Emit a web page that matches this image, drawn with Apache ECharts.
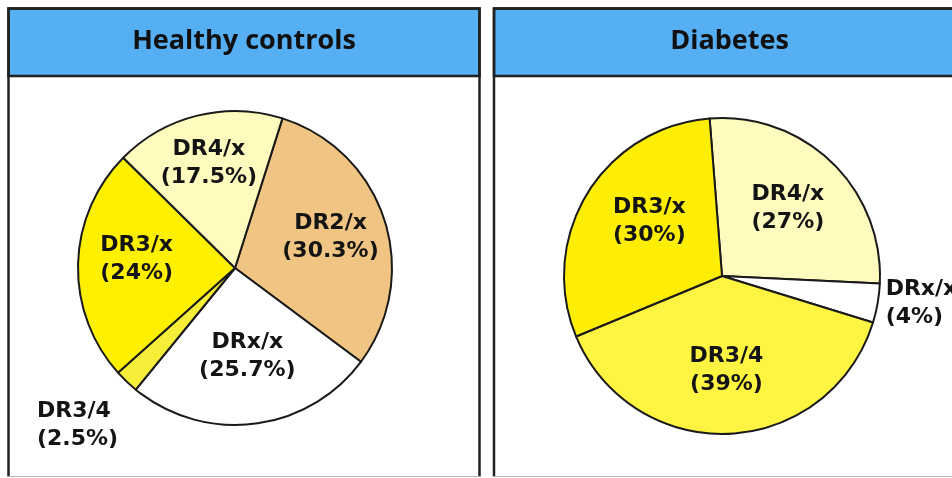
<!DOCTYPE html>
<html>
<head>
<meta charset="utf-8">
<script src="https://cdn.jsdelivr.net/npm/echarts@6/dist/echarts.min.js"></script>
<style>
  html, body { margin: 0; padding: 0; background: #ffffff; }
  #chart { width: 952px; height: 478px; }
</style>
</head>
<body>
<div id="chart"></div>
<script>
// HLA-DR genotype frequencies (%) in each group
const panelTitles = ['Healthy controls', 'Diabetes'];

const controlNames  = ['DR2/x', 'DRx/x', 'DR3/4', 'DR3/x', 'DR4/x'];
const controlValues = [30.3, 25.7, 2.5, 24, 17.5];
const controlColors = ['#f0c482', '#ffffff', '#f7ee3a', '#fff000', '#fffbbe'];

const diabetesNames  = ['DR4/x', 'DRx/x', 'DR3/4', 'DR3/x'];
const diabetesValues = [27, 4, 39, 30];
const diabetesColors = ['#fffbbe', '#ffffff', '#fff442', '#feee06'];

const labelFont = { fontFamily: 'DejaVu Sans', fontWeight: 'bold', fontSize: 22, lineHeight: 28, color: '#141414' };

// small per-label nudges inside the slices
const controlLabelNudge = { 'DR4/x': [-2, -7], 'DRx/x': [0, -11], 'DR3/x': [2, -6] };
const diabetesLabelNudge = { 'DR3/x': [8, -5] };

function labelText(p) {
  return p.name + '\n(' + p.value + '%)';
}

// slices drawn with a dark outline; one name per pie gets an outside label
function slicePie(names, values, colors, center, radius, startAngle, outsideName, outsideLabel) {
  return {
    type: 'pie',
    center: center,
    radius: radius,
    startAngle: startAngle,
    clockwise: true,
    silent: true,
    animation: false,
    itemStyle: { borderColor: '#1a1a1a', borderWidth: 2 },
    label: { show: false },
    labelLine: { show: false },
    data: names.map((n, i) => {
      const item = { name: n, value: values[i], itemStyle: { color: colors[i] } };
      if (n === outsideName) {
        item.label = Object.assign({
          show: true, position: 'outside', overflow: 'none',
          formatter: labelText
        }, labelFont, outsideLabel.label);
        item.labelLine = Object.assign({ show: false }, outsideLabel.line);
      }
      return item;
    })
  };
}

// transparent companion ring that carries the in-slice labels further out
function labelPie(names, values, center, radius, startAngle, outsideName, nudges) {
  return {
    type: 'pie',
    center: center,
    radius: [0, radius],
    startAngle: startAngle,
    clockwise: true,
    silent: true,
    animation: false,
    z: 3,
    itemStyle: { color: 'rgba(0,0,0,0)', borderWidth: 0 },
    label: Object.assign({ show: true, position: 'inside', formatter: labelText }, labelFont),
    labelLine: { show: false },
    data: names.map((n, i) => ({
      name: n, value: values[i],
      label: { show: n !== outsideName, offset: nudges[n] || [0, 0] }
    }))
  };
}

const leftPanel  = { x: 8.5, y: 8.5, w: 471, headerH: 67.5 };
const rightPanel = { x: 494, y: 8.5, w: 472, headerH: 67.5 };
const bottomY = 476.5;

function panelGraphics(p) {
  return [
    { type: 'rect', shape: { x: p.x, y: p.y, width: p.w, height: bottomY - p.y },
      style: { fill: '#ffffff', stroke: null }, z: -10 },
    { type: 'rect', shape: { x: p.x, y: p.y, width: p.w, height: p.headerH },
      style: { fill: '#56aef3', stroke: '#202020', lineWidth: 2.5 }, z: -9 },
    { type: 'polyline', shape: { points: [[p.x, bottomY], [p.x, p.y], [p.x + p.w, p.y], [p.x + p.w, bottomY]] },
      style: { fill: null, stroke: '#202020', lineWidth: 2.5 }, z: -8 },
    { type: 'line', shape: { x1: p.x, y1: bottomY, x2: p.x + p.w, y2: bottomY },
      style: { stroke: '#b4b4b4', lineWidth: 1.2 }, z: -8 }
  ];
}

const chart = echarts.init(document.getElementById('chart'), null, { renderer: 'canvas' });

const titleStyle = { fontFamily: 'Open Sans', fontWeight: 'bold', fontSize: 27, color: '#111111' };

chart.setOption({
  backgroundColor: '#ffffff',
  animation: false,
  title: [
    { text: panelTitles[0], left: leftPanel.x + leftPanel.w / 2, top: 41, padding: 0,
      textAlign: 'center', textVerticalAlign: 'middle', textStyle: titleStyle },
    { text: panelTitles[1], left: 729.5, top: 41, padding: 0,
      textAlign: 'center', textVerticalAlign: 'middle', textStyle: titleStyle }
  ],
  graphic: { elements: panelGraphics(leftPanel).concat(panelGraphics(rightPanel)) },
  series: [
    slicePie(controlNames, controlValues, controlColors, [235, 268], 157, 72.4, 'DR3/4',
      { label: { alignTo: 'edge', edgeDistance: 37 }, line: { length: 60, length2: 0 } }),
    labelPie(controlNames, controlValues, [235, 268], 157 * 1.24, 72.4, 'DR3/4', controlLabelNudge),
    slicePie(diabetesNames, diabetesValues, diabetesColors, [722, 276], 158, 94.5, 'DRx/x',
      { label: { alignTo: 'none', distanceToLabelLine: 5 }, line: { length: 0, length2: 3 } }),
    labelPie(diabetesNames, diabetesValues, [722, 276], 158 * 1.16, 94.5, 'DRx/x', diabetesLabelNudge)
  ]
});
</script>
</body>
</html>
